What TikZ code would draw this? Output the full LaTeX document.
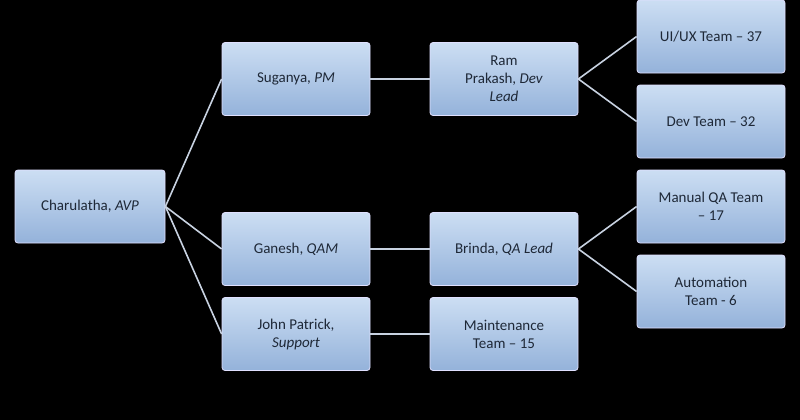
\documentclass[tikz,border=0pt]{standalone}
\usepackage{fontspec}
\setmainfont{Carlito}
\begin{document}
\begin{tikzpicture}[x=1pt,y=-1pt,
 box/.style={draw=white!70!blue!40, line width=0.8pt, rounded corners=3pt, top color={rgb,255:red,204;green,222;blue,243}, bottom color={rgb,255:red,148;green,178;blue,218}, minimum width=148pt, minimum height=73pt, align=center, font=\fontsize{15}{18}\selectfont, text={rgb,255:red,30;green,40;blue,55}, inner sep=2pt},
 ln/.style={draw={rgb,255:red,200;green,210;blue,225}, line width=1.6pt}]
\fill[black] (0,0) rectangle (800,420);
\useasboundingbox (0,0) rectangle (800,420);
\node[box,minimum width=150pt] (c) at (90,206.5) {Charulatha, \textit{AVP}};
\node[box] (s) at (296,79) {Suganya, \textit{PM}};
\node[box] (g) at (296,249) {Ganesh, \textit{QAM}};
\node[box] (j) at (296,334) {John Patrick,\\\textit{Support}};
\node[box] (r) at (504,79) {Ram\\Prakash, \textit{Dev}\\\textit{Lead}};
\node[box] (b) at (504,249) {Brinda, \textit{QA Lead}};
\node[box] (m) at (504,334) {Maintenance\\Team – 15};
\node[box] (u) at (711,36.5) {UI/UX Team – 37};
\node[box] (d) at (711,121.5) {Dev Team – 32};
\node[box] (q) at (711,206.5) {Manual QA Team\\– 17};
\node[box] (a) at (711,291.5) {Automation\\Team - 6};
\draw[ln] (c.east) -- (s.west);
\draw[ln] (c.east) -- (g.west);
\draw[ln] (c.east) -- (j.west);
\draw[ln] (s.east) -- (r.west);
\draw[ln] (g.east) -- (b.west);
\draw[ln] (j.east) -- (m.west);
\draw[ln] (r.east) -- (u.west);
\draw[ln] (r.east) -- (d.west);
\draw[ln] (b.east) -- (q.west);
\draw[ln] (b.east) -- (a.west);
\end{tikzpicture}
\end{document}
